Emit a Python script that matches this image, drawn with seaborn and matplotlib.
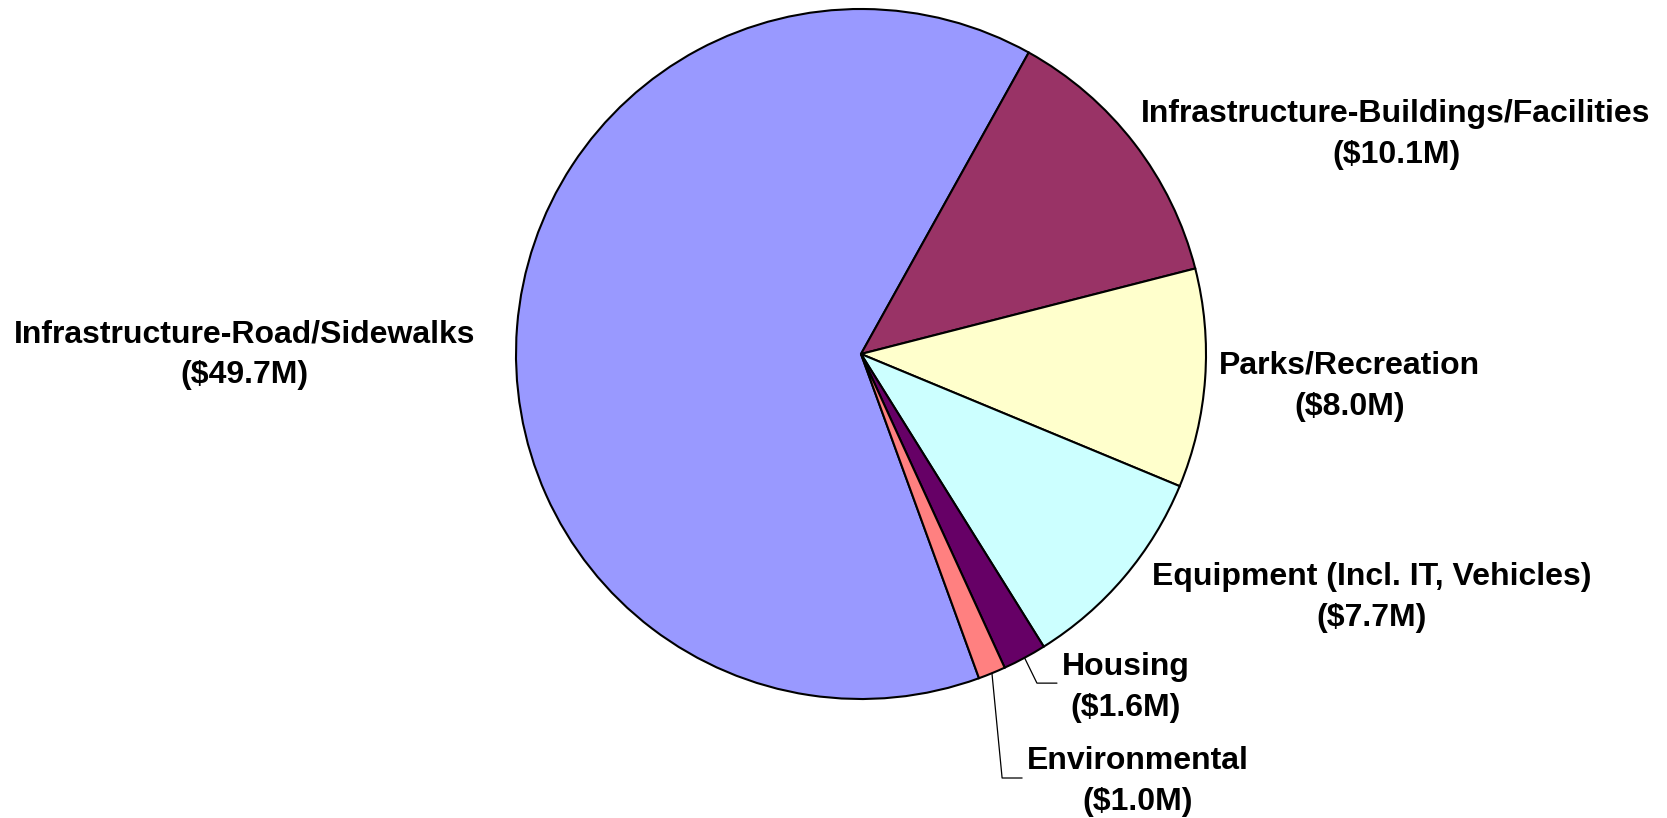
import matplotlib
matplotlib.use("Agg")
import matplotlib.pyplot as plt
import seaborn as sns
import numpy as np

categories = ["Infrastructure-Road/Sidewalks", "Infrastructure-Buildings/Facilities",
              "Parks/Recreation", "Equipment (Incl. IT, Vehicles)", "Housing", "Environmental"]
values = [49.7, 10.1, 8.0, 7.7, 1.6, 1.0]
value_labels = ["($49.7M)", "($10.1M)", "($8.0M)", "($7.7M)", "($1.6M)", "($1.0M)"]
colors = ["#9999FF", "#993366", "#FFFFCC", "#CCFFFF", "#660066", "#FF8080"]

sns.set_theme(style="white")
plt.rcParams['font.family'] = ['Liberation Sans', 'DejaVu Sans']

W, H = 1667, 818
fig = plt.figure(figsize=(W / 100, H / 100), dpi=100)
ax = fig.add_axes([0, 0, 1, 1])
cx, cy, r = 861, 354, 345

wedges, _ = ax.pie(values, colors=colors, startangle=290, counterclock=False,
                   radius=1.0, center=(0, 0),
                   wedgeprops=dict(edgecolor='black', linewidth=1.5))
ax.set_xlim(-cx / r, (W - cx) / r)
ax.set_ylim(-(H - cy) / r, cy / r)
ax.set_aspect('equal')
ax.axis('off')

# label layout (data units, radius = 1)
label_pos = [(-1.788, -0.002), (1.551, 0.635), (1.417, -0.093), (1.481, -0.706),
             (0.768, -0.968), (0.803, -1.238)]
for cat, vl, (lx, ly) in zip(categories, value_labels, label_pos):
    ax.text(lx, ly, f"{cat}\n{vl}", ha='center', va='center', multialignment='center',
            fontsize=23, fontweight='bold', linespacing=1.48, color='black')

# leader lines for the small slices
elbows = {4: ((0.510, -0.954), (0.568, -0.954)), 5: ((0.409, -1.229), (0.467, -1.229))}
for i, (elbow, end) in elbows.items():
    w = wedges[i]
    mid = np.deg2rad((w.theta1 + w.theta2) / 2)
    sx, sy = np.cos(mid) * w.r, np.sin(mid) * w.r
    ax.plot([sx, elbow[0], end[0]], [sy, elbow[1], end[1]], color='black', linewidth=0.9)

fig.savefig("out.png", dpi=100, facecolor='white')
